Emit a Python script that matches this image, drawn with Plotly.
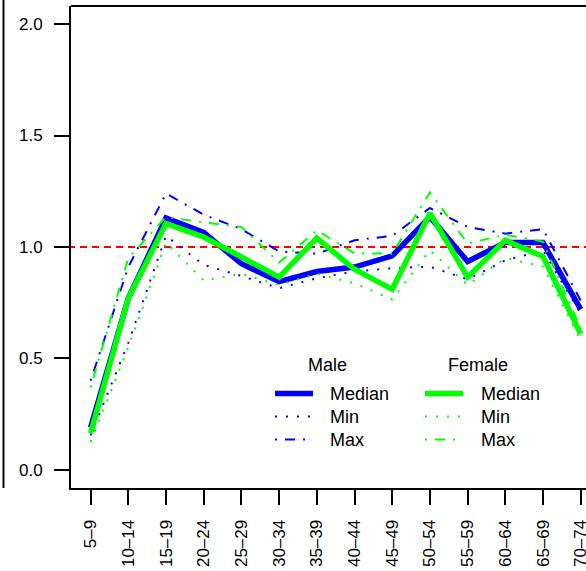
import plotly.graph_objects as go

categories = ["5\u20139", "10\u201314", "15\u201319", "20\u201324", "25\u201329", "30\u201334", "35\u201339",
              "40\u201344", "45\u201349", "50\u201354", "55\u201359", "60\u201364", "65\u201369", "70\u201374"]
male_median = [0.19, 0.77, 1.13, 1.065, 0.925, 0.845, 0.89, 0.91, 0.96, 1.135, 0.935, 1.02, 1.02, 0.72]
male_min = [0.155, 0.57, 1.05, 0.92, 0.87, 0.815, 0.86, 0.89, 0.905, 0.912, 0.855, 0.94, 0.985, 0.70]
male_max = [0.40, 0.91, 1.24, 1.145, 1.08, 0.98, 0.97, 1.03, 1.05, 1.175, 1.09, 1.06, 1.08, 0.76]
female_median = [0.165, 0.77, 1.105, 1.045, 0.955, 0.865, 1.04, 0.9, 0.81, 1.152, 0.865, 1.03, 0.957, 0.61]
female_min = [0.125, 0.55, 1.02, 0.85, 0.88, 0.83, 0.88, 0.837, 0.765, 0.985, 0.83, 0.95, 0.912, 0.58]
female_max = [0.37, 0.95, 1.135, 1.11, 1.09, 0.93, 1.075, 0.972, 0.97, 1.245, 1.016, 1.055, 1.024, 0.635]
y_ticks = [0.0, 0.5, 1.0, 1.5, 2.0]
reference_level = 1.0

BLUE = "#0000FF"
GREEN = "#00FF00"
FONT = "Liberation Sans, Arial, sans-serif"
DOT = "2px,9px"
DOTDASH = "2px,8px,10px,8px"

x = list(range(1, len(categories) + 1))

fig = go.Figure()
# reference line
fig.add_trace(go.Scatter(x=[0.4, 15], y=[reference_level] * 2, mode="lines",
                         line=dict(color="#FF0000", width=2, dash="7px,5px"), showlegend=False,
                         hoverinfo="skip"))

series = [
    (male_min, BLUE, 2, DOT),
    (male_max, BLUE, 2, DOTDASH),
    (male_median, BLUE, 5.5, "solid"),
    (female_min, GREEN, 2, DOT),
    (female_max, GREEN, 2, DOTDASH),
    (female_median, GREEN, 5.5, "solid"),
]
for ys, col, w, d in series:
    fig.add_trace(go.Scatter(x=x, y=ys, mode="lines", line=dict(color=col, width=w, dash=d),
                             showlegend=False))

W, H = 586, 571
L, R, T, B = 71, 0, 6, 83
pw, ph = W - L - R, H - T - B


def px(xp):
    return (xp - L) / pw


def py(yp):
    return (H - B - yp) / ph


shapes = []
annotations = []
# top border of the box
shapes.append(dict(type="line", xref="paper", yref="paper", x0=0, x1=1, y0=1, y1=1,
                   line=dict(color="black", width=2)))
# right border of neighbouring panel on the left
shapes.append(dict(type="line", xref="paper", yref="paper", x0=px(3.5), x1=px(3.5), y0=py(488), y1=py(-5),
                   line=dict(color="black", width=2)))

# legend
legend_cols = [("Male", BLUE, 327.5, 275, 313, 328), ("Female", GREEN, 478, 425, 463, 479)]
rows = [("Median", 393.5, 5.5, "solid"), ("Min", 416.5, 2, DOT), ("Max", 439.5, 2, DOTDASH)]
for title, col, cx, lx0, lx1, tx in legend_cols:
    annotations.append(dict(text=title, xref="paper", yref="paper", x=px(cx), y=py(365),
                            xanchor="center", yanchor="middle", showarrow=False,
                            font=dict(family=FONT, size=18, color="black")))
    for lab, yy, w, d in rows:
        shapes.append(dict(type="line", xref="paper", yref="paper", x0=px(lx0), x1=px(lx1),
                           y0=py(yy), y1=py(yy), line=dict(color=col, width=w, dash=d)))
        annotations.append(dict(text=lab, xref="paper", yref="paper", x=px(tx), y=py(yy),
                                xanchor="left", yanchor="middle", showarrow=False,
                                font=dict(family=FONT, size=18, color="black")))

fig.update_layout(
    width=W, height=H,
    margin=dict(l=L, r=R, t=T, b=B, pad=0, autoexpand=False),
    plot_bgcolor="white", paper_bgcolor="white",
    font=dict(family=FONT, size=17, color="black"),
    shapes=shapes, annotations=annotations,
    showlegend=False,
)
fig.update_xaxes(range=[0.48, 0.48 + pw / 37.7], tickmode="array", tickvals=x, ticktext=categories,
                 tickangle=-90, ticks="outside", ticklen=15, tickwidth=2, tickcolor="black",
                 showline=True, linecolor="black", linewidth=2, showgrid=False, zeroline=False,
                 automargin=False, ticklabeloverflow="allow",
                 ticklabelstandoff=8, tickfont=dict(family=FONT, size=17, color="black"))
fig.update_yaxes(range=[-0.081, 2.081], tickmode="array", tickvals=y_ticks,
                 ticktext=[f"{v:.1f}" for v in y_ticks],
                 ticks="outside", ticklen=15, tickwidth=2, tickcolor="black",
                 showline=True, linecolor="black", linewidth=2, showgrid=False, zeroline=False,
                 automargin=False,
                 ticklabelstandoff=8, tickfont=dict(family=FONT, size=17, color="black"))

fig.write_html("out.html", config={"displayModeBar": False},
               post_script="document.body.style.margin='0';document.body.style.overflow='hidden';")
